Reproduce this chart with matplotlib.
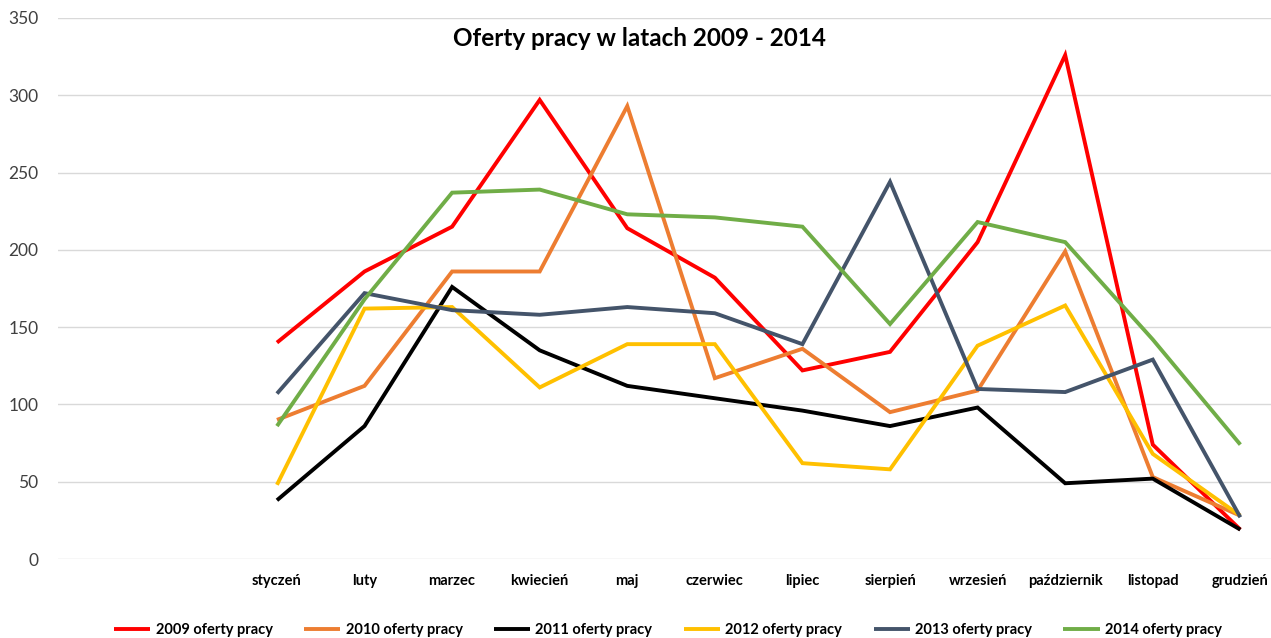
import numpy as np
import matplotlib
matplotlib.use("Agg")
import matplotlib.pyplot as plt

# months (2 empty category slots precede them on the axis)
months = ['styczeń', 'luty', 'marzec', 'kwiecień', 'maj', 'czerwiec',
          'lipiec', 'sierpień', 'wrzesień', 'październik', 'listopad', 'grudzień']

oferty_2009 = [140, 186, 215, 297, 214, 182, 122, 134, 205, 326, 74, 19]
oferty_2010 = [90, 112, 186, 186, 293, 117, 136, 95, 109, 199, 53, 28]
oferty_2011 = [38, 86, 176, 135, 112, 104, 96, 86, 98, 49, 52, 19]
oferty_2012 = [48, 162, 163, 111, 139, 139, 62, 58, 138, 164, 68, 28]
oferty_2013 = [107, 172, 161, 158, 163, 159, 139, 244, 110, 108, 129, 27]
oferty_2014 = [86, 168, 237, 239, 223, 221, 215, 152, 218, 205, 142, 74]

series = [
    ('2009 oferty pracy', oferty_2009, '#FF0000'),
    ('2010 oferty pracy', oferty_2010, '#ED7D31'),
    ('2011 oferty pracy', oferty_2011, '#000000'),
    ('2012 oferty pracy', oferty_2012, '#FFC000'),
    ('2013 oferty pracy', oferty_2013, '#44546A'),
    ('2014 oferty pracy', oferty_2014, '#70AD47'),
]

plt.rcParams['font.family'] = ['Lato', 'DejaVu Sans']

fig = plt.figure(figsize=(12.71, 6.38), dpi=100)
ax = fig.add_axes([58 / 1271, 1 - 559 / 638, 1 - 58 / 1271, 541 / 638])

x = np.arange(2, 2 + len(months))
for label, vals, color in series:
    ax.plot(x, vals, color=color, linewidth=2.8, label=label,
            solid_joinstyle='miter', solid_capstyle='butt')

ax.set_xlim(-0.5, 13.35)
ax.set_ylim(0, 350)
ax.set_yticks(range(0, 351, 50))
ax.set_xticks(x)
ax.set_xticklabels(months, fontweight='bold', fontsize=10.5, color='#000000')
ax.tick_params(axis='x', length=0, pad=11)
ax.tick_params(axis='y', length=0, pad=14, labelsize=12.5, labelcolor='#404040')
ax.grid(axis='y', color='#D9D9D9', linewidth=1)
ax.set_axisbelow(True)
for s in ax.spines.values():
    s.set_visible(False)

fig.text(0.503, 0.94, 'Oferty pracy w latach 2009 - 2014', ha='center', va='center',
         fontsize=17.5, fontweight='bold')

leg = fig.legend(loc='center', bbox_to_anchor=(0.5256, 0.0125), ncol=6, frameon=False,
                 prop={'weight': 'bold', 'size': 10.5}, handlelength=2.5,
                 handletextpad=0.35, columnspacing=2.15)

fig.savefig('out.png', dpi=100)
